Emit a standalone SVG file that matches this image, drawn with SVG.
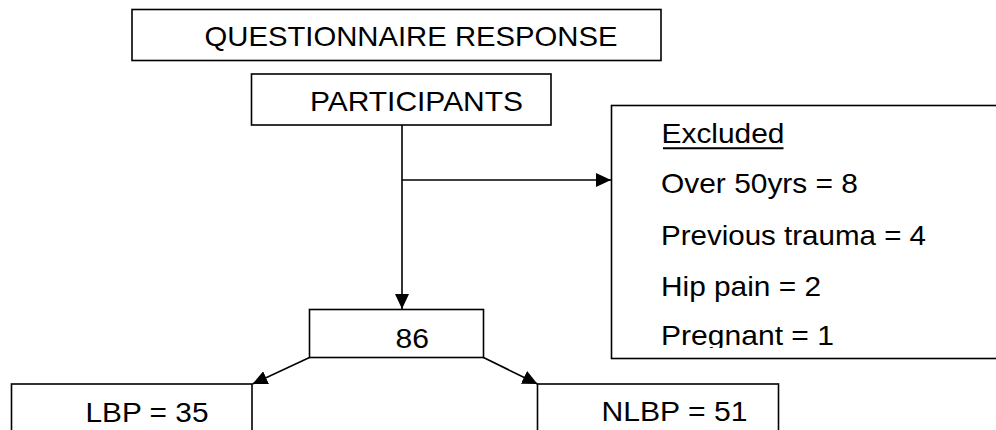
<svg xmlns="http://www.w3.org/2000/svg" width="996" height="430" viewBox="0 0 996 430">
<style>
.box{fill:#fff;stroke:#000;stroke-width:1.6}
.t{font-family:"Liberation Sans",Arial,sans-serif;font-size:27.5px;fill:#000}
.c{stroke:#000;stroke-width:1.6;fill:none}
</style>
<defs>
<marker id="ah" markerUnits="userSpaceOnUse" markerWidth="15" markerHeight="14" refX="15" refY="7" orient="auto">
<path d="M0,0 L15,7 L0,14 z" fill="#000"/>
</marker>
<clipPath id="exclip"><rect x="611" y="105" width="400" height="243"/></clipPath>
</defs>
<rect width="996" height="430" fill="#fff"/>
<g id="connectors">
<line class="c" x1="402" y1="125" x2="402" y2="309" marker-end="url(#ah)"/>
<line class="c" x1="402" y1="180" x2="611" y2="180" marker-end="url(#ah)"/>
<line class="c" x1="309.5" y1="357.5" x2="252.5" y2="384" marker-end="url(#ah)"/>
<line class="c" x1="483.5" y1="357.5" x2="537.5" y2="384" marker-end="url(#ah)"/>
</g>
<g id="questionnaire">
<rect class="box" x="132" y="9.5" width="529" height="51"/>
<text class="t" x="204.5" y="45.7" textLength="413" lengthAdjust="spacingAndGlyphs">QUESTIONNAIRE RESPONSE</text>
</g>
<g id="participants">
<rect class="box" x="251.5" y="74" width="299.5" height="51"/>
<text class="t" x="310" y="111" textLength="213" lengthAdjust="spacingAndGlyphs">PARTICIPANTS</text>
</g>
<g id="excluded">
<rect class="box" x="611.5" y="105.5" width="400" height="253"/>
<g clip-path="url(#exclip)">
<text class="t" x="661.5" y="143.3" textLength="123" lengthAdjust="spacingAndGlyphs">Excluded</text>
<line x1="663" y1="148.3" x2="783.5" y2="148.3" stroke="#000" stroke-width="2"/>
<text class="t" x="661" y="193.3" textLength="197" lengthAdjust="spacingAndGlyphs">Over 50yrs = 8</text>
<text class="t" x="661" y="245" textLength="265" lengthAdjust="spacingAndGlyphs">Previous trauma = 4</text>
<text class="t" x="661" y="296" textLength="160" lengthAdjust="spacingAndGlyphs">Hip pain = 2</text>
<text class="t" x="661" y="345" textLength="173" lengthAdjust="spacingAndGlyphs">Pregnant = 1</text>
</g>
</g>
<g id="total">
<rect class="box" x="309.5" y="309.5" width="174" height="48"/>
<text class="t" x="395.5" y="347.7" textLength="33.5" lengthAdjust="spacingAndGlyphs">86</text>
</g>
<g id="lbp">
<rect class="box" x="11.5" y="384" width="240.5" height="60"/>
<text class="t" x="85.5" y="421.5" textLength="123" lengthAdjust="spacingAndGlyphs">LBP = 35</text>
</g>
<g id="nlbp">
<rect class="box" x="537.5" y="384" width="241" height="60"/>
<text class="t" x="601.5" y="420.5" textLength="146" lengthAdjust="spacingAndGlyphs">NLBP = 51</text>
</g>
</svg>
